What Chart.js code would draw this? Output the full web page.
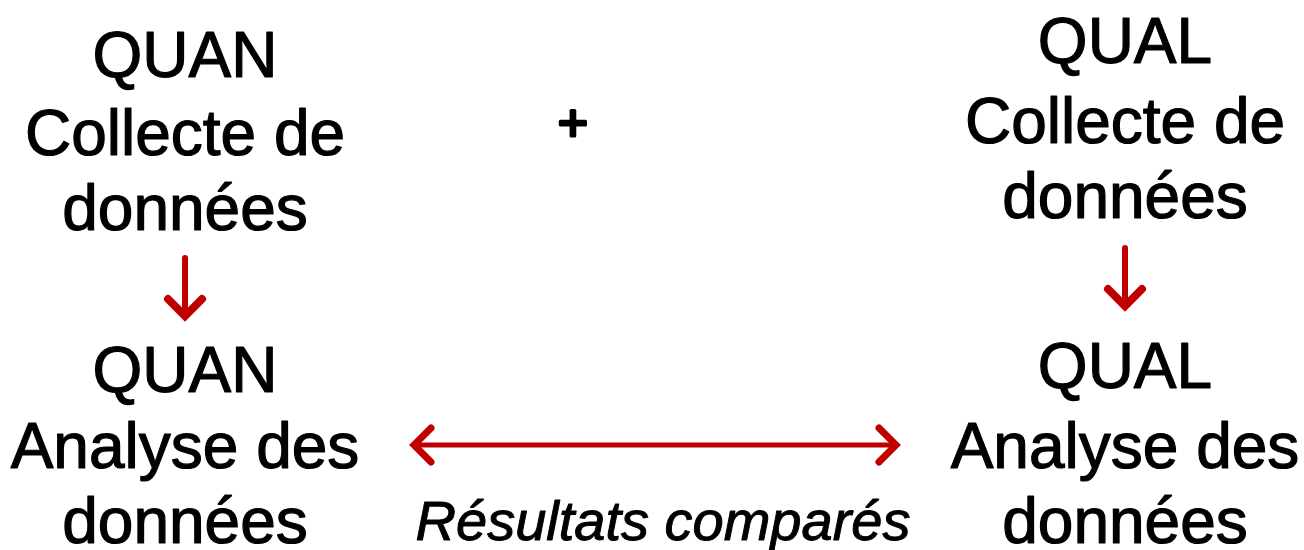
<!DOCTYPE html>
<html>
<head>
<meta charset="utf-8">
<script src="https://cdn.jsdelivr.net/npm/chart.js@4"></script>
<style>
  html, body { margin: 0; padding: 0; background: #fff; }
  #wrap { width: 1304px; height: 550px; }
</style>
</head>
<body>
<div id="wrap"><canvas id="diagram"></canvas></div>
<script>
// text blocks: [text, x, baseline y]
const leftLabels = [
    ['QUAN', 185, 77],
    ['Collecte de', 185, 155],
    ['données', 185, 230],
    ['QUAN', 185, 392],
    ['Analyse des', 185, 468],
    ['données', 185, 543]
];
const rightLabels = [
    ['QUAL', 1125, 63],
    ['Collecte de', 1125, 143],
    ['données', 1125, 218],
    ['QUAL', 1125, 388],
    ['Analyse des', 1125, 468],
    ['données', 1125, 543]
];
const plusLabel = ['+', 573, 141];
const compareLabel = ['Résultats comparés', 663, 540];

// arrows: [x1, y1, x2, y2]  (shaft from first to second point)
const downArrows = [
    [185, 258, 185, 320],
    [1125, 248, 1125, 310]
];
const doubleArrow = [410, 445, 900, 445];

const red = '#c00000';

function arrowHead(tipX, tipY, dx, dy) {
    // two strokes going back from the tip
    const len = 17;
    const nx = -dy, ny = dx;
    return [
        {x: tipX - dx * len + nx * len, y: tipY - dy * len + ny * len},
        {x: tipX, y: tipY},
        {x: tipX - dx * len - nx * len, y: tipY - dy * len - ny * len}
    ];
}

const datasets = [];
function addLine(points, width) {
    datasets.push({
        type: 'line',
        data: points,
        borderColor: red,
        borderWidth: width,
        borderCapStyle: 'round',
        borderJoinStyle: 'miter',
        pointRadius: 0,
        fill: false,
        tension: 0
    });
}
downArrows.forEach(a => {
    addLine([{x: a[0], y: a[1]}, {x: a[2], y: a[3] - 6}], 6);
    addLine(arrowHead(a[2], a[3] - 4, 0, 1), 8);
});
addLine([{x: doubleArrow[0] + 6, y: doubleArrow[1]}, {x: doubleArrow[2] - 6, y: doubleArrow[3]}], 5);
addLine(arrowHead(doubleArrow[2] - 4, doubleArrow[3], 1, 0), 7);
addLine(arrowHead(doubleArrow[0] + 4, doubleArrow[1], -1, 0), 7);

const textPlugin = {
    id: 'diagramText',
    afterDatasetsDraw(chart) {
        const ctx = chart.ctx;
        const xs = chart.scales.x, ys = chart.scales.y;
        ctx.save();
        ctx.fillStyle = '#000';
        ctx.strokeStyle = '#000';
        ctx.lineWidth = 1.2;
        ctx.lineJoin = 'round';
        ctx.textAlign = 'center';
        ctx.textBaseline = 'alphabetic';
        const put = (t) => {
            const px = xs.getPixelForValue(t[1]), py = ys.getPixelForValue(t[2]);
            ctx.fillText(t[0], px, py);
            ctx.strokeText(t[0], px, py);
        };
        ctx.font = '64px "Liberation Sans", Arial, sans-serif';
        leftLabels.concat(rightLabels).forEach(put);
        ctx.lineWidth = 3;
        ctx.font = '52px "Liberation Sans", Arial, sans-serif';
        put(plusLabel);
        ctx.lineWidth = 1;
        ctx.font = 'italic 56px "Liberation Sans", Arial, sans-serif';
        put(compareLabel);
        ctx.restore();
    }
};

new Chart(document.getElementById('diagram').getContext('2d'), {
    type: 'scatter',
    data: { datasets: datasets },
    options: {
        responsive: true,
        maintainAspectRatio: false,
        animation: false,
        layout: { padding: 0 },
        plugins: { legend: { display: false }, tooltip: { enabled: false } },
        scales: {
            x: { type: 'linear', min: 0, max: 1304, display: false },
            y: { type: 'linear', min: 0, max: 550, reverse: true, display: false }
        }
    },
    plugins: [textPlugin]
});
</script>
</body>
</html>
